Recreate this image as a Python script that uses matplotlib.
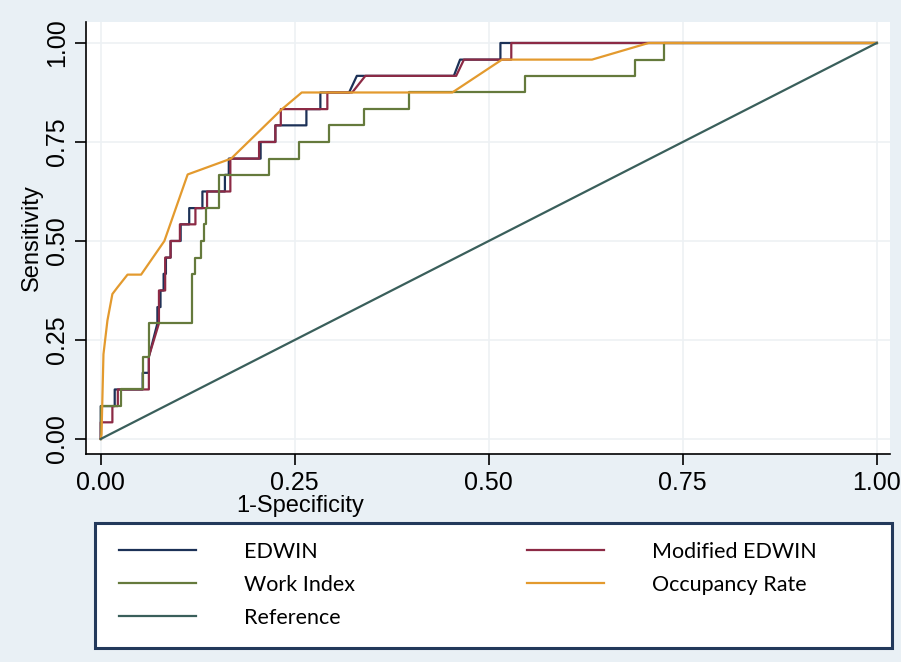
import numpy as np
import matplotlib
matplotlib.use('Agg')
import matplotlib.pyplot as plt
from matplotlib.patches import Rectangle

# ROC curves (1-specificity, sensitivity)
edwin_x = [0, 0, 0.018, 0.018, 0.054, 0.054, 0.062, 0.062, 0.073, 0.073, 0.077, 0.077,
           0.081, 0.081, 0.084, 0.084, 0.090, 0.090, 0.103, 0.103, 0.114, 0.114, 0.131,
           0.131, 0.160, 0.160, 0.165, 0.165, 0.206, 0.206, 0.225, 0.225, 0.265, 0.265,
           0.283, 0.283, 0.320, 0.330, 0.455, 0.463, 0.515, 0.515, 1.0]
edwin_y = [0, 0.083, 0.083, 0.125, 0.125, 0.167, 0.167, 0.208, 0.292, 0.333, 0.333, 0.375,
           0.375, 0.417, 0.417, 0.458, 0.458, 0.5, 0.5, 0.542, 0.542, 0.583, 0.583,
           0.625, 0.625, 0.667, 0.667, 0.708, 0.708, 0.75, 0.75, 0.792, 0.792, 0.833,
           0.833, 0.875, 0.875, 0.917, 0.917, 0.958, 0.958, 1.0, 1.0]

mod_edwin_x = [0, 0, 0.015, 0.015, 0.022, 0.022, 0.062, 0.062, 0.075, 0.075, 0.083, 0.083,
               0.090, 0.090, 0.102, 0.102, 0.122, 0.122, 0.137, 0.137, 0.167, 0.167, 0.204,
               0.204, 0.225, 0.225, 0.232, 0.232, 0.292, 0.292, 0.324, 0.341, 0.458, 0.468,
               0.529, 0.529, 1.0]
mod_edwin_y = [0, 0.042, 0.042, 0.083, 0.083, 0.125, 0.125, 0.208, 0.292, 0.375, 0.375, 0.458,
               0.458, 0.5, 0.5, 0.542, 0.542, 0.583, 0.583, 0.625, 0.625, 0.708, 0.708,
               0.75, 0.75, 0.792, 0.792, 0.833, 0.833, 0.875, 0.875, 0.917, 0.917, 0.958,
               0.958, 1.0, 1.0]

work_x = [0, 0, 0.026, 0.026, 0.054, 0.054, 0.062, 0.062, 0.117, 0.117, 0.122, 0.122, 0.129,
          0.129, 0.133, 0.133, 0.135, 0.135, 0.152, 0.152, 0.217, 0.217, 0.255, 0.255, 0.294,
          0.294, 0.339, 0.339, 0.397, 0.397, 0.547, 0.547, 0.689, 0.689, 0.726, 0.726, 1.0]
work_y = [0, 0.083, 0.083, 0.125, 0.125, 0.208, 0.208, 0.292, 0.292, 0.417, 0.417, 0.458,
          0.458, 0.5, 0.5, 0.542, 0.542, 0.583, 0.583, 0.667, 0.667, 0.708, 0.708, 0.75, 0.75,
          0.792, 0.792, 0.833, 0.833, 0.875, 0.875, 0.917, 0.917, 0.958, 0.958, 1.0, 1.0]

occ_x = [0, 0.001, 0.0035, 0.0086, 0.015, 0.0216, 0.0345, 0.052, 0.082, 0.112, 0.168, 0.233,
         0.259, 0.453, 0.517, 0.633, 0.706, 1.0]
occ_y = [0, 0.012, 0.214, 0.299, 0.366, 0.383, 0.415, 0.415, 0.5, 0.668, 0.708, 0.832,
         0.875, 0.875, 0.958, 0.958, 1.0, 1.0]

ref_x = [0, 1]
ref_y = [0, 1]

ticks = [0, 0.25, 0.5, 0.75, 1.0]
tick_labels = ['0.00', '0.25', '0.50', '0.75', '1.00']

bg = '#e9f0f5'
plt.rcParams['font.family'] = ['Liberation Sans', 'DejaVu Sans']

fig = plt.figure(figsize=(9.01, 6.62), dpi=100, facecolor=bg)
ax = fig.add_axes([86/901, 1 - 454/662, (890 - 86)/901, (454 - 22)/662])
ax.set_facecolor('white')

lw = 1.6
l1, = ax.plot(edwin_x, edwin_y, color='#1c3157', lw=lw, label='EDWIN')
l2, = ax.plot(mod_edwin_x, mod_edwin_y, color='#8c2a45', lw=lw, label='Modified EDWIN')
l3, = ax.plot(work_x, work_y, color='#657a3c', lw=lw, label='Work Index')
l4, = ax.plot(occ_x, occ_y, color='#e39a2e', lw=lw, label='Occupancy Rate')
l5, = ax.plot(ref_x, ref_y, color='#3a5f5b', lw=lw, label='Reference')

ax.set_xlim(-0.019, 1.017)
ax.set_ylim(-0.038, 1.053)
ax.set_xticks(ticks)
ax.set_xticklabels(tick_labels)
ax.set_yticks(ticks)
ax.set_yticklabels(tick_labels, rotation=90, va='center')
ax.tick_params(direction='out', length=8, width=1.2, labelsize=18, pad=4)
ax.grid(True, color='#edf1f4', lw=1.2)
ax.set_axisbelow(True)
for s in ['top', 'right']:
    ax.spines[s].set_visible(False)
for s in ['left', 'bottom']:
    ax.spines[s].set_linewidth(1.2)

ax.set_xlabel('1-Specificity', fontsize=17)
ax.xaxis.set_label_coords((300 - 86) / (890 - 86), -0.095)
ax.set_ylabel('Sensitivity', fontsize=17)
ax.yaxis.set_label_coords(-0.053, 0.5)

# legend box
fig.patches.append(Rectangle((95/901, 1 - 648/662), (892 - 95)/901, (648 - 523)/662,
                             transform=fig.transFigure, facecolor='white',
                             edgecolor='#23395b', lw=2.2, zorder=1))
leg = fig.legend(handles=[l1, l3, l5, l2, l4], ncol=2, frameon=False,
                 loc='upper left', bbox_to_anchor=(108/901, 1 - 531/662),
                 prop={'family': 'Lato', 'size': 15.5},
                 handlelength=3.6, handletextpad=2.2, columnspacing=8.0,
                 labelspacing=0.6, borderpad=0)

plt.savefig('out.png', dpi=100, facecolor=bg)
